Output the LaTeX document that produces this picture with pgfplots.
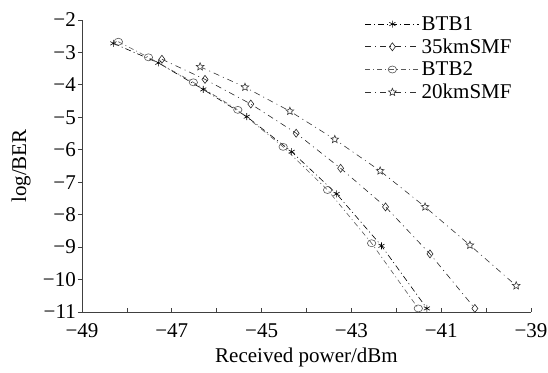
\documentclass[border=0pt]{standalone}
\usepackage{fontspec}
\setmainfont{Liberation Serif}
\usepackage{pgfplots}
\pgfplotsset{compat=1.18}
\pgfdeclareplotmark{ostar}{%
  \pgfpathmoveto{\pgfqpointpolar{90}{\pgfplotmarksize}}%
  \pgfpathlineto{\pgfqpointpolar{126}{0.45\pgfplotmarksize}}%
  \pgfpathlineto{\pgfqpointpolar{162}{\pgfplotmarksize}}%
  \pgfpathlineto{\pgfqpointpolar{198}{0.45\pgfplotmarksize}}%
  \pgfpathlineto{\pgfqpointpolar{234}{\pgfplotmarksize}}%
  \pgfpathlineto{\pgfqpointpolar{270}{0.45\pgfplotmarksize}}%
  \pgfpathlineto{\pgfqpointpolar{306}{\pgfplotmarksize}}%
  \pgfpathlineto{\pgfqpointpolar{342}{0.45\pgfplotmarksize}}%
  \pgfpathlineto{\pgfqpointpolar{18}{\pgfplotmarksize}}%
  \pgfpathlineto{\pgfqpointpolar{54}{0.45\pgfplotmarksize}}%
  \pgfpathclose
  \pgfusepathqfillstroke
}
\begin{document}
\begin{tikzpicture}[font=\fontsize{21}{25}\selectfont]
\useasboundingbox (0,0) rectangle (548pt,372pt);
\begin{axis}[
  at={(82pt,60pt)}, anchor=south west,
  scale only axis, width=449pt, height=292pt,
  xmin=-49, xmax=-39, ymin=-11, ymax=-2,
  axis x line*=bottom, axis y line*=left,
  axis line style={line width=0.8pt, black!75},
  xtick={-49,-47,-45,-43,-41,-39},
  xticklabels={−49,−47,−45,−43,−41,−39},
  minor xtick={-48,-46,-44,-42,-40},
  ytick={-2,-3,-4,-5,-6,-7,-8,-9,-10,-11},
  yticklabels={−2,−3,−4,−5,−6,−7,−8,−9,−10,−11},
  xtick align=inside, ytick align=outside,
  major tick length=4pt, minor tick length=4pt,
  tick style={line width=0.8pt, black!75},
  xticklabel style={inner sep=2pt, yshift=-9pt},
  yticklabel style={inner sep=2pt},
  xlabel={Received power/dBm}, ylabel={log/BER},
  xlabel style={inner sep=0pt, yshift=-8pt},
  ylabel style={inner sep=0pt, yshift=10pt},
  clip=false,
  every axis plot/.append style={line width=0.6pt, mark options={solid, line width=0.6pt, fill=white}},
  legend style={draw=none, fill=none, at={(axis description cs:0.63,1.02)}, anchor=north west, row sep=3pt, inner sep=0pt, nodes={inner sep=2pt}},
  legend cell align=left,
  legend image code/.code={\draw[mark repeat=2,mark phase=2] plot coordinates {(0pt,0pt) (27pt,0pt) (54pt,0pt)};},
]
\addplot[black, dash pattern=on 6pt off 3pt on 1pt off 3pt, mark=asterisk, mark size=3.5pt] coordinates {
(-48.30,-2.72) (-47.30,-3.32) (-46.30,-4.14) (-45.33,-4.98) (-44.33,-6.06) (-43.33,-7.36) (-42.33,-8.96) (-41.32,-10.89)};
\addlegendentry{BTB1}
\addplot[black!85, dash pattern=on 6pt off 4pt on 1pt off 4pt, mark=diamond, mark size=4pt] coordinates {
(-47.22,-3.21) (-46.26,-3.83) (-45.24,-4.59) (-44.23,-5.49) (-43.24,-6.57) (-42.24,-7.76) (-41.25,-9.21) (-40.25,-10.89)};
\addlegendentry{35kmSMF}
\addplot[black!65, dash pattern=on 5pt off 3pt on 1pt off 3pt, mark=o, mark size=3.5pt, mark options={solid, line width=0.6pt, fill=white, xscale=1.2}] coordinates {
(-48.19,-2.67) (-47.52,-3.15) (-46.52,-3.92) (-45.53,-4.77) (-44.52,-5.91) (-43.53,-7.24) (-42.55,-8.88) (-41.51,-10.89)};
\addlegendentry{BTB2}
\addplot[black!80, dash pattern=on 6pt off 4pt on 1pt off 4pt, mark=ostar, mark size=4pt] coordinates {
(-46.37,-3.44) (-45.37,-4.07) (-44.37,-4.81) (-43.37,-5.68) (-42.36,-6.65) (-41.36,-7.76) (-40.36,-8.94) (-39.33,-10.19)};
\addlegendentry{20kmSMF}
\end{axis}
\end{tikzpicture}
\end{document}
